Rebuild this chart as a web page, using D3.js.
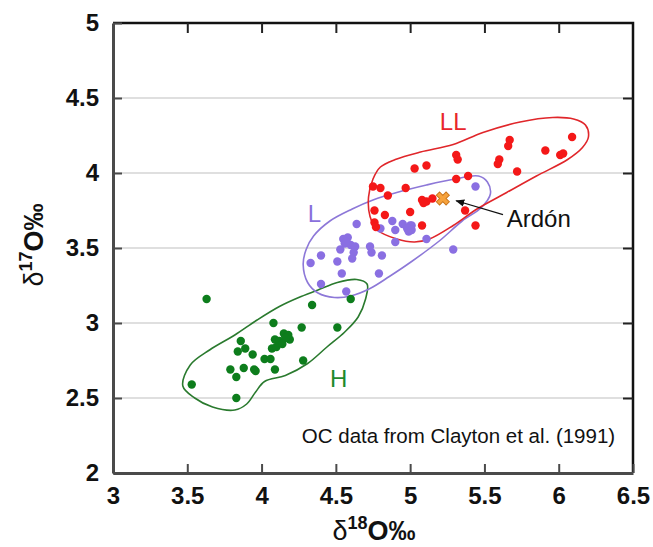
<!DOCTYPE html>
<html>
<head>
<meta charset="utf-8">
<script src="https://cdn.jsdelivr.net/npm/d3@7"></script>
<style>
  body { margin: 0; background: #fff; }
  svg { display: block; font-family: "Liberation Sans", Arial, sans-serif; }
</style>
</head>
<body>
<div class="container"></div>
<script>
// values: [d18O, d17O]
const hPoints = [
  [3.63,3.16],[3.53,2.59],[3.83,2.50],[3.79,2.69],[3.83,2.64],[3.88,2.70],[3.95,2.69],[3.96,2.68],
  [3.86,2.88],[3.84,2.81],[3.89,2.83],[3.94,2.79],[4.02,2.76],[4.06,2.76],[4.09,2.69],[4.08,3.00],
  [4.07,2.83],[4.09,2.89],[4.15,2.93],[4.18,2.92],[4.19,2.89],[4.12,2.88],[4.10,2.84],[4.16,2.90],
  [4.14,2.86],[4.34,3.12],[4.27,2.97],[4.51,2.97],[4.28,2.75],[4.60,3.16]
];
const lPoints = [
  [4.64,3.66],[4.55,3.56],[4.58,3.57],[4.56,3.53],[4.60,3.52],[4.63,3.51],[4.53,3.49],[4.62,3.47],
  [4.61,3.43],[4.73,3.51],[4.74,3.47],[4.81,3.45],[4.40,3.45],[4.33,3.40],[4.51,3.41],[4.54,3.33],
  [4.79,3.33],[4.40,3.26],[4.57,3.21],[4.88,3.68],[4.95,3.66],[4.99,3.61],[5.01,3.65],[4.90,3.54],
  [5.44,3.91],[5.00,3.65],[4.98,3.63],[5.01,3.62],[4.90,3.62],[4.80,3.63],[5.11,3.56],[5.29,3.49],
  [4.57,3.54]
];
const llPoints = [
  [5.31,4.12],[5.32,4.09],[5.11,4.05],[5.03,4.03],[5.31,3.96],[5.39,3.98],[4.75,3.91],[4.80,3.90],
  [4.97,3.90],[4.85,3.85],[5.08,3.82],[5.11,3.81],[5.15,3.83],[5.09,3.80],[4.76,3.75],[4.83,3.72],
  [5.00,3.74],[5.37,3.75],[4.76,3.67],[4.77,3.64],[5.08,3.65],[5.44,3.65],[5.67,4.22],[5.66,4.18],
  [6.09,4.24],[5.91,4.15],[6.01,4.12],[6.03,4.13],[5.60,4.09],[5.59,4.06],[5.72,4.01]
];
const ardon = [5.22, 3.83];

// hand drawn outlines round each group
const hContour = [
  [3.47,2.58],[3.52,2.72],[3.65,2.82],[3.82,2.92],[3.97,3.02],[4.12,3.11],[4.25,3.17],[4.38,3.22],
  [4.51,3.27],[4.64,3.29],[4.71,3.26],[4.70,3.16],[4.65,3.04],[4.56,2.94],[4.44,2.84],[4.31,2.73],
  [4.16,2.65],[4.02,2.61],[3.96,2.54],[3.90,2.46],[3.82,2.42],[3.67,2.44],[3.55,2.50]
];
const lContour = [
  [4.28,3.39],[4.30,3.49],[4.35,3.58],[4.46,3.68],[4.61,3.76],[4.75,3.82],[4.91,3.87],[5.11,3.92],
  [5.30,3.96],[5.46,3.98],[5.52,3.94],[5.54,3.86],[5.48,3.77],[5.35,3.68],[5.20,3.55],[5.01,3.41],
  [4.86,3.31],[4.73,3.23],[4.60,3.18],[4.49,3.17],[4.38,3.20],[4.31,3.27]
];
const llContour = [
  [4.75,3.96],[4.80,4.04],[4.90,4.09],[5.07,4.14],[5.29,4.19],[5.49,4.27],[5.74,4.34],[5.96,4.37],
  [6.10,4.36],[6.18,4.32],[6.20,4.24],[6.16,4.17],[6.06,4.09],[5.85,3.98],[5.65,3.87],[5.45,3.76],
  [5.29,3.65],[5.13,3.56],[5.03,3.54],[4.91,3.56],[4.78,3.62],[4.73,3.71],[4.72,3.84]
];

const xTicks = [3, 3.5, 4, 4.5, 5, 5.5, 6, 6.5];
const yTicks = [2, 2.5, 3, 3.5, 4, 4.5, 5];

const groupNames = ["H", "L", "LL"];
const groupLabelPos = [[4.46, 2.575], [4.31, 3.675], [5.20, 4.29]];
const ardonLabelPos = [5.65, 3.64];
const ardonArrow = [[5.625, 3.722], [5.31, 3.815]];
const noteText = "OC data from Clayton et al. (1991)";
const notePos = [6.38, 2.2];

const w = 653, h = 547;
const pLeft = 113, pRight = 633, pTop = 23, pBottom = 473;

const svg = d3.select(".container").append("svg")
  .attr("width", w)
  .attr("height", h);

const xScale = d3.scaleLinear().domain([3, 6.5]).range([pLeft, pRight]);
const yScale = d3.scaleLinear().domain([2, 5]).range([pBottom, pTop]);

// gridlines
svg.append("g")
  .selectAll("line")
  .data(yTicks.filter(d => d > 2 && d < 5))
  .enter().append("line")
  .attr("x1", pLeft).attr("x2", pRight)
  .attr("y1", d => yScale(d)).attr("y2", d => yScale(d))
  .attr("stroke", "#d4d4d4")
  .attr("stroke-width", 1.5);

// frame: top + right black
svg.append("path")
  .attr("d", `M${pLeft},${pTop}H${pRight}V${pBottom}`)
  .attr("fill", "none")
  .attr("stroke", "#111")
  .attr("stroke-width", 2.5);

const fmt = d => d3.format("")(d);

const xAxis = svg.append("g")
  .attr("transform", "translate(0," + pBottom + ")")
  .call(d3.axisBottom(xScale).tickValues(xTicks).tickFormat(fmt).tickSizeInner(-9).tickSizeOuter(0).tickPadding(14));
const yAxis = svg.append("g")
  .attr("transform", "translate(" + pLeft + ",0)")
  .call(d3.axisLeft(yScale).tickValues(yTicks).tickFormat(fmt).tickSizeInner(-9).tickSizeOuter(0).tickPadding(14));
const topAxis = svg.append("g")
  .attr("transform", "translate(0," + pTop + ")")
  .call(d3.axisTop(xScale).tickValues(xTicks.slice(1, -1)).tickSizeInner(-10).tickSizeOuter(0).tickFormat(""));
const rightAxis = svg.append("g")
  .attr("transform", "translate(" + pRight + ",0)")
  .call(d3.axisRight(yScale).tickValues(yTicks.slice(1, -1)).tickSizeInner(-10).tickSizeOuter(0).tickFormat(""));

[xAxis, yAxis].forEach(g => {
  g.select(".domain").attr("stroke", "#4a4a4a").attr("stroke-width", 3);
  g.selectAll(".tick line").attr("stroke", "#4a4a4a").attr("stroke-width", 2);
  g.selectAll(".tick text")
    .attr("fill", "#111")
    .style("font-family", '"Liberation Sans", Arial, sans-serif')
    .style("font-size", "24px")
    .style("font-weight", "bold");
});
[topAxis, rightAxis].forEach(g => {
  g.select(".domain").remove();
  g.selectAll(".tick line").attr("stroke", "#222").attr("stroke-width", 2);
});

// outlines
const line = d3.line()
  .x(d => xScale(d[0]))
  .y(d => yScale(d[1]))
  .curve(d3.curveCatmullRomClosed.alpha(0.5));

const contours = [
  {pts: hContour, color: "#2a7a2e"},
  {pts: lContour, color: "#8d78d8"},
  {pts: llContour, color: "#e0262a"}
];
svg.selectAll(".contour")
  .data(contours)
  .enter().append("path")
  .attr("class", "contour")
  .attr("d", d => line(d.pts))
  .attr("fill", "none")
  .attr("stroke", d => d.color)
  .attr("stroke-width", 1.6);

// points
const groups = [
  {pts: hPoints, color: "#0d7d1c"},
  {pts: lPoints, color: "#8a6fe2"},
  {pts: llPoints, color: "#f41818"}
];
groups.forEach(gr => {
  svg.append("g")
    .selectAll("circle")
    .data(gr.pts)
    .enter().append("circle")
    .attr("cx", d => xScale(d[0]))
    .attr("cy", d => yScale(d[1]))
    .attr("r", 4.2)
    .attr("fill", gr.color);
});

// group labels
const labelColors = ["#1e8a2c", "#8a70dc", "#e8262c"];
svg.selectAll(".glabel")
  .data(groupNames)
  .enter().append("text")
  .attr("class", "glabel")
  .attr("x", (d, i) => xScale(groupLabelPos[i][0]))
  .attr("y", (d, i) => yScale(groupLabelPos[i][1]))
  .attr("fill", (d, i) => labelColors[i])
  .style("font-size", "24px")
  .text(d => d);

// arrow to Ardon
svg.append("defs").append("marker")
  .attr("id", "arr")
  .attr("viewBox", "0 0 10 10")
  .attr("refX", 9).attr("refY", 5)
  .attr("markerWidth", 9).attr("markerHeight", 9)
  .attr("markerUnits", "userSpaceOnUse")
  .attr("orient", "auto")
  .append("path")
  .attr("d", "M0,1L10,5L0,9z")
  .attr("fill", "#111");

svg.append("line")
  .attr("x1", xScale(ardonArrow[0][0])).attr("y1", yScale(ardonArrow[0][1]))
  .attr("x2", xScale(ardonArrow[1][0])).attr("y2", yScale(ardonArrow[1][1]))
  .attr("stroke", "#111")
  .attr("stroke-width", 1.3)
  .attr("marker-end", "url(#arr)");

svg.append("path")
  .attr("d", d3.symbol(d3.symbolCross, 105)())
  .attr("transform", `translate(${xScale(ardon[0])},${yScale(ardon[1])}) rotate(45)`)
  .attr("fill", "#f6a23c")
  .attr("stroke", "#c8741a")
  .attr("stroke-width", 1);

svg.append("text")
  .attr("x", xScale(ardonLabelPos[0]))
  .attr("y", yScale(ardonLabelPos[1]))
  .attr("fill", "#111")
  .style("font-size", "24px")
  .text("Ardón");

svg.append("text")
  .attr("x", xScale(notePos[0]))
  .attr("y", yScale(notePos[1]))
  .attr("text-anchor", "end")
  .attr("fill", "#111")
  .style("font-size", "20.5px")
  .text(noteText);

// axis titles
const xTitle = svg.append("text")
  .attr("x", (pLeft + pRight) / 2 + 1)
  .attr("y", 540)
  .attr("text-anchor", "middle")
  .attr("fill", "#111")
  .style("font-size", "27px")
  .style("font-weight", "bold");
xTitle.append("tspan").style("font-weight", "normal").text("δ");
xTitle.append("tspan").attr("dy", -11).style("font-size", "18px").text("18");
xTitle.append("tspan").attr("dy", 11).text("O‰");

const yTitle = svg.append("text")
  .attr("transform", "translate(43,245) rotate(-90)")
  .attr("text-anchor", "middle")
  .attr("fill", "#111")
  .style("font-size", "27px")
  .style("font-weight", "bold");
yTitle.append("tspan").style("font-weight", "normal").text("δ");
yTitle.append("tspan").attr("dy", -11).style("font-size", "18px").text("17");
yTitle.append("tspan").attr("dy", 11).text("O‰");
</script>
</body>
</html>
